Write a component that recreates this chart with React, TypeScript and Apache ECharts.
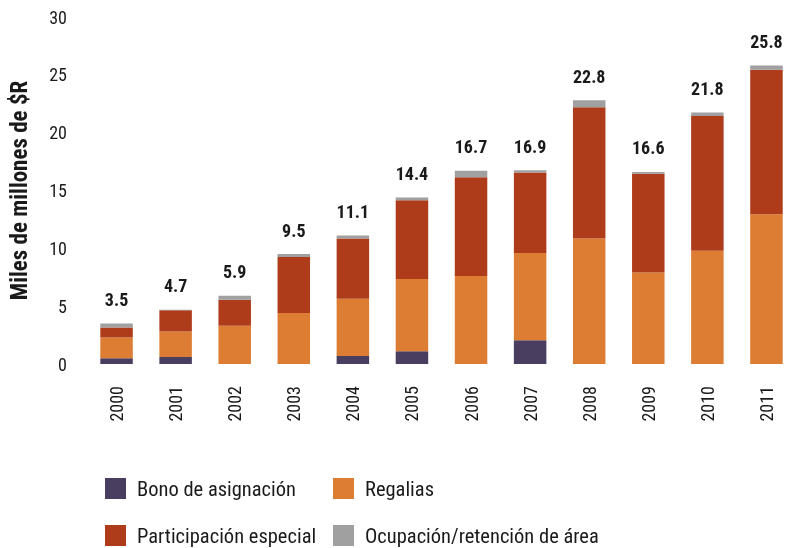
import React, { useEffect, useRef } from "react";
import * as echarts from "echarts";

const years = ["2000", "2001", "2002", "2003", "2004", "2005", "2006", "2007", "2008", "2009", "2010", "2011"];
const bono = [0.5, 0.6, 0, 0, 0.7, 1.1, 0, 2.05, 0, 0, 0, 0];
const regalias = [1.8, 2.2, 3.3, 4.4, 4.95, 6.25, 7.6, 7.55, 10.85, 7.9, 9.8, 12.95];
const participacion = [0.85, 1.85, 2.25, 4.85, 5.2, 6.8, 8.55, 6.95, 11.35, 8.55, 11.65, 12.5];
const ocupacion = [0.35, 0.05, 0.35, 0.25, 0.25, 0.25, 0.55, 0.2, 0.6, 0.15, 0.3, 0.35];
const totals = ["3.5", "4.7", "5.9", "9.5", "11.1", "14.4", "16.7", "16.9", "22.8", "16.6", "21.8", "25.8"];
const yTicks = [0, 5, 10, 15, 20, 25, 30];

const FONT = "'Roboto Condensed', 'DejaVu Sans Condensed', sans-serif";
const TXT = "#1a1a1a";

export default function App() {
  const ref = useRef<HTMLDivElement>(null);
  useEffect(() => {
    if (!ref.current) return;
    const chart = echarts.init(ref.current, undefined, { renderer: "svg" });
    const mk = (name: string, data: number[], color: string) => ({
      name,
      type: "bar",
      stack: "total",
      data,
      barWidth: "55%",
      itemStyle: { color },
      emphasis: { disabled: true },
    });
    const legendBase = {
      orient: "vertical",
      top: 478,
      padding: 0,
      icon: "rect",
      itemWidth: 21,
      itemHeight: 21,
      itemGap: 26,
      textStyle: { fontFamily: FONT, fontSize: 20.5, color: TXT, padding: [0, 0, 0, 6] },
      selectedMode: false,
    };
    chart.setOption({
      animation: false,
      textStyle: { fontFamily: FONT },
      grid: { left: 87, right: -11, top: 17, bottom: 548 - 364 },
      legend: [
        { ...legendBase, left: 105, data: ["Bono de asignación", "Participación especial"] },
        { ...legendBase, left: 333, data: ["Regalias", "Ocupación/retención de área"] },
      ],
      xAxis: {
        type: "category",
        data: years,
        axisLine: { show: false },
        axisTick: { show: false },
        axisLabel: { rotate: 90, margin: 22, fontFamily: FONT, fontSize: 18, color: TXT },
      },
      yAxis: {
        type: "value",
        min: yTicks[0],
        max: yTicks[yTicks.length - 1],
        interval: 5,
        name: "Miles de millones de $R",
        nameLocation: "middle",
        nameRotate: 90,
        nameGap: 56,
        nameTextStyle: { fontFamily: FONT, fontSize: 23, fontWeight: "bold", color: TXT, padding: [0, 0, 0, 0] },
        axisLine: { show: false },
        axisTick: { show: false },
        splitLine: { show: false },
        axisLabel: { margin: 20, fontFamily: FONT, fontSize: 18, color: TXT, padding: [0, 0, 6, 0] },
      },
      series: [
        mk("Bono de asignación", bono, "#493e5f"),
        mk("Regalias", regalias, "#dd7c33"),
        mk("Participación especial", participacion, "#ae3c1b"),
        {
          ...mk("Ocupación/retención de área", ocupacion, "#a0a0a0"),
          label: {
            show: true,
            position: "top",
            distance: 15,
            formatter: (p: any) => totals[p.dataIndex],
            fontFamily: FONT,
            fontSize: 18,
            fontWeight: "bold",
            color: TXT,
          },
        },
      ],
    });
    return () => chart.dispose();
  }, []);
  return <div ref={ref} style={{ position: "fixed", left: 0, top: 0, width: 796, height: 548 }} />;
}
